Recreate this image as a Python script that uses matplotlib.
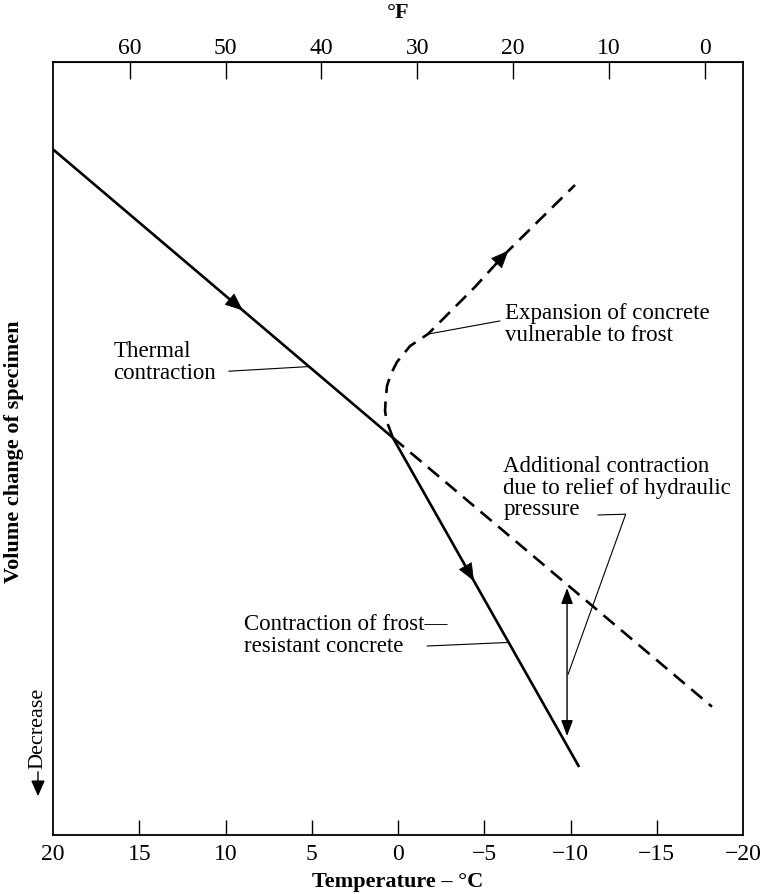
import numpy as np
import matplotlib
matplotlib.use('Agg')
import matplotlib.pyplot as plt

plt.rcParams['font.family'] = ['Liberation Serif', 'DejaVu Serif']

# Volume change (arbitrary units) vs temperature in degC
thermal_x = [20.0, 0.3]
thermal_y = [88.7, 51.4]

resistant_x = [0.3, -10.5]
resistant_y = [51.4, 8.8]

extrap_x = [0.3, -18.2]
extrap_y = [51.4, 16.6]

expansion_x = [0.3, 0.42, 0.66, 0.75, 0.72, 0.64, 0.41, 0.06, -0.70, -1.74,
               -2.84, -4.46, -6.20, -10.26]
expansion_y = [51.4, 52.13, 53.56, 54.85, 56.14, 58.08, 59.64, 61.19, 63.26,
               64.81, 67.27, 70.89, 75.16, 84.09]

# relief of hydraulic pressure (vertical double arrow)
relief_x = -9.8
relief_y = [12.8, 31.95]

c_labels = [20, 15, 10, 5, 0, -5, -10, -15, -20]
f_ticks = [60, 50, 40, 30, 20, 10, 0]


def c2f(c):
    return np.asarray(c) * 9 / 5 + 32


def f2c(f):
    return (np.asarray(f) - 32) * 5 / 9


def mid_arrow(ax, xs, ys, at_x):
    # arrowhead sitting on a line, pointing the way the data runs
    xs = np.asarray(xs, float)
    ys = np.asarray(ys, float)
    order = np.argsort(xs)
    tip_y = np.interp(at_x, xs[order], ys[order])
    step = 0.6 * np.sign(xs[-1] - xs[0])
    tail_y = np.interp(at_x - step, xs[order], ys[order])
    ax.annotate('', xy=(at_x, tip_y), xytext=(at_x - step, tail_y),
                arrowprops=dict(arrowstyle='-|>,head_length=0.9,head_width=0.38',
                                mutation_scale=13, color='black', lw=0.5,
                                shrinkA=0, shrinkB=0))


fig = plt.figure(figsize=(7.6, 8.95), dpi=100)
ax = fig.add_axes([53 / 760, 1 - 836 / 895, 690 / 760, 773 / 895])

lw = 1.9
ax.plot(thermal_x, thermal_y, color='black', lw=lw, solid_capstyle='butt')
ax.plot(resistant_x, resistant_y, color='black', lw=lw, solid_capstyle='butt')
ax.plot(extrap_x, extrap_y, color='black', lw=lw, ls=(0, (5.5, 3.2)))
ax.plot(expansion_x, expansion_y, color='black', lw=lw, ls=(0, (5.5, 3.2)))

mid_arrow(ax, thermal_x, thermal_y, 9.0)
mid_arrow(ax, resistant_x, resistant_y, -4.4)
mid_arrow(ax, expansion_x[-3:], expansion_y[-3:], -6.4)

ax.annotate('', xy=(relief_x, relief_y[0]), xytext=(relief_x, relief_y[1]),
            arrowprops=dict(arrowstyle='<|-|>,head_length=0.8,head_width=0.3',
                            mutation_scale=12, color='black', lw=1.0,
                            shrinkA=0, shrinkB=0))

ax.set_xlim(20, -20)
ax.set_ylim(0, 100)

fs = 16.5
ls = 1.05
ax.text(16.5, 61.3, 'Thermal\ncontraction', fontsize=fs, va='center', ha='left',
        linespacing=ls)
ax.plot([9.8, 5.16], [60.0, 60.6], color='black', lw=0.8)

ax.text(-6.2, 66.2, 'Expansion of concrete\nvulnerable to frost', fontsize=fs,
        va='center', ha='left', linespacing=ls)
ax.plot([-5.9, -1.74], [66.5, 64.8], color='black', lw=0.8)

ax.text(-6.1, 45.0, 'Additional contraction\ndue to relief of hydraulic\npressure',
        fontsize=fs, va='center', ha='left', linespacing=ls)
ax.plot([-11.6, -13.2, -9.86], [41.4, 41.5, 20.8], color='black', lw=0.8)

ax.text(8.9, 25.9, 'Contraction of frost\u2014\nresistant concrete', fontsize=fs,
        va='center', ha='left', linespacing=ls)
ax.plot([-1.7, -6.3], [24.45, 24.9], color='black', lw=0.8)

# axes styling
for s in ax.spines.values():
    s.set_linewidth(1.3)
ax.set_yticks([])
ax.set_xticks(c_labels)
ax.set_xticklabels([str(v).replace('-', '\u2212') for v in c_labels], fontsize=17)
ax.tick_params(axis='x', direction='in', length=11, width=1, pad=6)
for t in ax.xaxis.get_major_ticks():
    if t.get_loc() in (20, -20):
        t.tick1line.set_visible(False)
ax.set_xlabel('Temperature \u2013 \u00b0C', fontsize=16, fontweight='bold', labelpad=5)

sec = ax.secondary_xaxis('top', functions=(c2f, f2c))
sec.set_xticks(f_ticks)
sec.set_xticklabels([str(v) for v in f_ticks], fontsize=17)
sec.tick_params(axis='x', direction='in', length=12, width=1, pad=3)
sec.set_xlabel('\u00b0F', fontsize=16, fontweight='bold', labelpad=14)

fig.text(14 / 760, 1 - 452 / 895, 'Volume change of specimen', rotation=90,
         fontsize=16, fontweight='bold', ha='center', va='center')
fig.text(38 / 760, 1 - 728 / 895, 'Decrease', rotation=90, fontsize=16,
         ha='center', va='center')
fig.add_artist(matplotlib.patches.FancyArrowPatch(
    (38 / 760, 1 - 770 / 895), (38 / 760, 1 - 800 / 895),
    transform=fig.transFigure, arrowstyle='-|>,head_length=0.8,head_width=0.35',
    mutation_scale=12, color='black', lw=1.0))

fig.savefig('out.png', dpi=100)
